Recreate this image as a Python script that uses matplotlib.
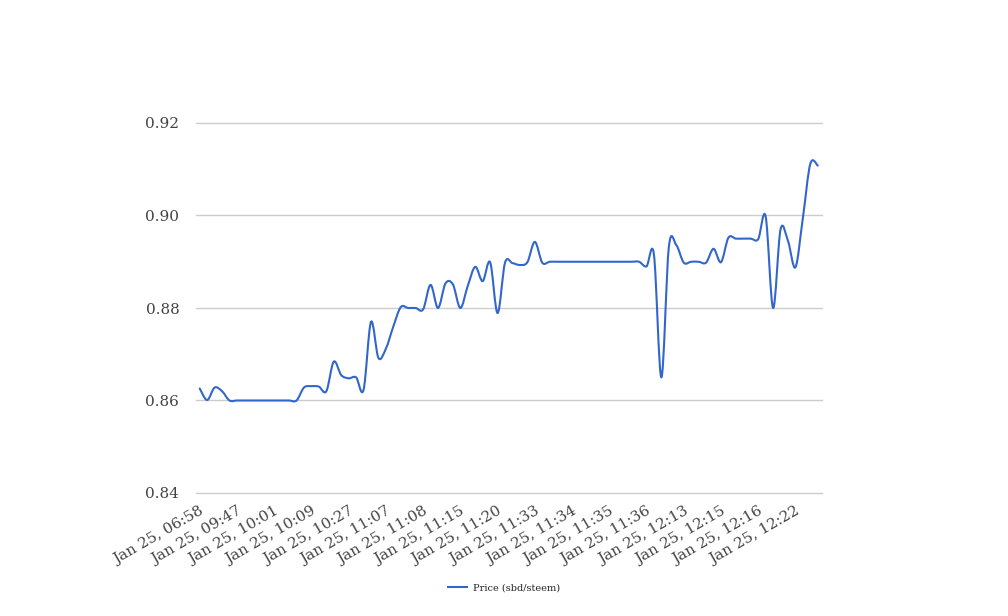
import matplotlib

matplotlib.use("Agg")

import matplotlib.pyplot as plt  # noqa: E402
from matplotlib.lines import Line2D  # noqa: E402
from matplotlib.patches import PathPatch  # noqa: E402
from matplotlib.path import Path  # noqa: E402

# price per trade (sbd per steem)
prices = [
    0.8626, 0.8601, 0.8628, 0.8620, 0.8600, 0.8600, 0.8600, 0.8600, 0.8600, 0.8600,
    0.8600, 0.8600, 0.8600, 0.8600, 0.8628, 0.8631, 0.8630, 0.8620, 0.8684, 0.8655,
    0.8648, 0.8650, 0.8623, 0.8770, 0.8692, 0.8712, 0.8760, 0.8802, 0.8800, 0.8800,
    0.8797, 0.8850, 0.8800, 0.8853, 0.8851, 0.8800, 0.8848, 0.8889, 0.8858, 0.8899,
    0.8789, 0.8898, 0.8897, 0.8893, 0.8899, 0.8943, 0.8898, 0.8900, 0.8900, 0.8900,
    0.8900, 0.8900, 0.8900, 0.8900, 0.8900, 0.8900, 0.8900, 0.8900, 0.8900, 0.8900,
    0.8890, 0.8915, 0.8650, 0.8932, 0.8936, 0.8898, 0.8900, 0.8900, 0.8898, 0.8928,
    0.8899, 0.8952, 0.8950, 0.8950, 0.8950, 0.8949, 0.8998, 0.8800, 0.8970, 0.8945,
    0.8888, 0.8995, 0.9112, 0.9108,
]
# only every 5th trade carries a label on the axis
tick_labels = [
    "Jan 25, 06:58", "Jan 25, 09:47", "Jan 25, 10:01", "Jan 25, 10:09",
    "Jan 25, 10:27", "Jan 25, 11:07", "Jan 25, 11:08", "Jan 25, 11:15",
    "Jan 25, 11:20", "Jan 25, 11:33", "Jan 25, 11:34", "Jan 25, 11:35",
    "Jan 25, 11:36", "Jan 25, 12:13", "Jan 25, 12:15", "Jan 25, 12:16",
    "Jan 25, 12:22",
]
y_ticks = [0.84, 0.86, 0.88, 0.90, 0.92]
LABEL_EVERY = 5
BLUE = "#3366cc"


def smooth_path(xs, ys):
    """Catmull-Rom curve through the points, expressed as cubic Bezier segments."""
    pts = list(zip(xs, ys))
    verts = [pts[0]]
    codes = [Path.MOVETO]
    n = len(pts)
    for i in range(n - 1):
        p0 = pts[max(i - 1, 0)]
        p1 = pts[i]
        p2 = pts[i + 1]
        p3 = pts[min(i + 2, n - 1)]
        c1 = (p1[0] + (p2[0] - p0[0]) / 6, p1[1] + (p2[1] - p0[1]) / 6)
        c2 = (p2[0] - (p3[0] - p1[0]) / 6, p2[1] - (p3[1] - p1[1]) / 6)
        verts += [c1, c2, p2]
        codes += [Path.CURVE4] * 3
    return Path(verts, codes)


plt.rcParams["font.family"] = ["DejaVu Serif"]

fig = plt.figure(figsize=(10.08, 6.16), dpi=100)
ax = fig.add_axes([196 / 1008, 1 - 493 / 616, 625.5 / 1008, 370 / 616])

xs = list(range(len(prices)))
ax.add_patch(PathPatch(smooth_path(xs, prices), facecolor="none",
                       edgecolor=BLUE, lw=1.5, capstyle="round", joinstyle="round"))

ax.set_xlim(-0.5, len(prices) - 0.5)
ax.set_ylim(0.84, 0.92)
ax.set_yticks(y_ticks)
ax.set_yticklabels([f"{v:.2f}" for v in y_ticks])
ax.set_axisbelow(True)
for v in y_ticks:
    ax.axhline(v, color="#cccccc", lw=1, zorder=0, clip_on=False)

ax.set_xticks(xs[::LABEL_EVERY])
ax.set_xticklabels(tick_labels, rotation=30, ha="right", rotation_mode="anchor")

for side in ("top", "right", "left", "bottom"):
    ax.spines[side].set_visible(False)
ax.tick_params(axis="both", length=0, colors="#444444")
ax.tick_params(axis="y", pad=12, labelsize=11)
ax.tick_params(axis="x", pad=8, labelsize=10.8)

handle = Line2D([], [], color=BLUE, lw=1.5)
fig.legend([handle], ["Price (sbd/steem)"], loc="center",
           bbox_to_anchor=(0.5, 1 - 588 / 616), frameon=False,
           fontsize=7, handlelength=2.0, handletextpad=0.6, labelcolor="#222222")

fig.savefig("out.png", dpi=100)
